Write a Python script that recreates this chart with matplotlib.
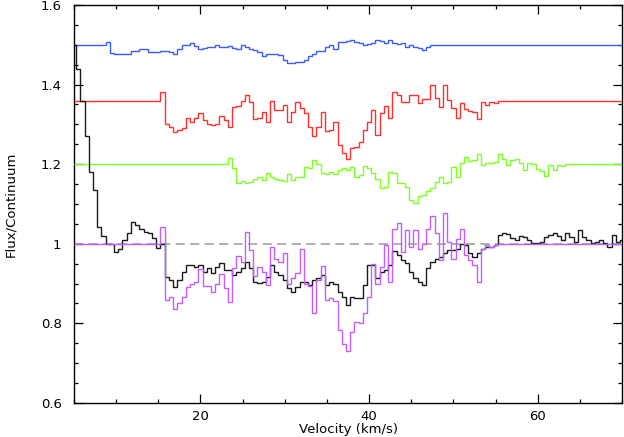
import matplotlib
matplotlib.use("Agg")
import matplotlib.pyplot as plt
import numpy as np
from matplotlib.ticker import MultipleLocator, FormatStrFormatter

# velocity range of the plot (km/s)
v_min, v_max = 5.0, 70.0
bin_width = 0.5

# each spectrum: first bin centre, flux per 0.5 km/s bin, continuum offset
blue_start = 9.0
blue_level = 1.5
blue_flux = [
    1.507, 1.480, 1.477, 1.477, 1.478, 1.478, 1.484, 1.484, 1.489, 1.490,
    1.482, 1.482, 1.482, 1.484, 1.485, 1.482, 1.478, 1.490, 1.499, 1.500,
    1.505, 1.497, 1.490, 1.492, 1.494, 1.495, 1.500, 1.494, 1.495, 1.497,
    1.492, 1.490, 1.499, 1.495, 1.490, 1.487, 1.482, 1.473, 1.477, 1.478,
    1.477, 1.475, 1.462, 1.455, 1.453, 1.457, 1.458, 1.463, 1.472, 1.478,
    1.485, 1.485, 1.495, 1.499, 1.490, 1.507, 1.507, 1.510, 1.512, 1.507,
    1.504, 1.500, 1.502, 1.505, 1.512, 1.509, 1.505, 1.512, 1.505, 1.502,
    1.504, 1.495, 1.499, 1.494, 1.492, 1.487, 1.495, 1.499, 1.499,
]

red_start = 15.5
red_level = 1.36
red_flux = [
    1.382, 1.302, 1.294, 1.280, 1.286, 1.290, 1.315, 1.307, 1.315, 1.328,
    1.311, 1.300, 1.298, 1.302, 1.322, 1.311, 1.294, 1.344, 1.347, 1.359,
    1.375, 1.357, 1.313, 1.317, 1.330, 1.307, 1.360, 1.336, 1.336, 1.349,
    1.307, 1.332, 1.355, 1.340, 1.328, 1.294, 1.271, 1.294, 1.332, 1.283,
    1.286, 1.307, 1.248, 1.227, 1.214, 1.241, 1.244, 1.256, 1.286, 1.307,
    1.336, 1.273, 1.328, 1.347, 1.315, 1.382, 1.374, 1.357, 1.357, 1.374,
    1.375, 1.353, 1.364, 1.365, 1.399, 1.367, 1.344, 1.399, 1.361, 1.340,
    1.315, 1.353, 1.339, 1.333, 1.330, 1.313, 1.355, 1.349, 1.355, 1.353,
]

green_start = 23.5
green_level = 1.2
green_flux = [
    1.215, 1.190, 1.152, 1.159, 1.152, 1.154, 1.164, 1.167, 1.160, 1.179,
    1.169, 1.162, 1.160, 1.159, 1.175, 1.160, 1.167, 1.169, 1.192, 1.190,
    1.211, 1.200, 1.179, 1.175, 1.181, 1.175, 1.185, 1.190, 1.185, 1.194,
    1.167, 1.173, 1.195, 1.190, 1.179, 1.162, 1.139, 1.142, 1.181, 1.179,
    1.152, 1.152, 1.143, 1.110, 1.103, 1.120, 1.122, 1.133, 1.139, 1.156,
    1.169, 1.152, 1.156, 1.194, 1.169, 1.204, 1.217, 1.209, 1.211, 1.226,
    1.198, 1.204, 1.204, 1.206, 1.226, 1.212, 1.198, 1.211, 1.212, 1.202,
    1.185, 1.202, 1.200, 1.187, 1.184, 1.170, 1.198, 1.185, 1.198, 1.196,
]

black_start = 5.0
black_flux = [
    1.500, 1.440, 1.360, 1.270, 1.180, 1.135, 1.043, 1.020, 1.000, 1.000,
    0.980, 0.988, 1.009, 1.026, 1.055, 1.047, 1.038, 1.030, 1.026, 1.015,
    0.990, 1.000, 0.917, 0.909, 0.892, 0.909, 0.930, 0.947, 0.947, 0.942,
    0.947, 0.930, 0.938, 0.927, 0.942, 0.951, 0.934, 0.934, 0.921, 0.930,
    0.938, 0.955, 0.938, 0.905, 0.902, 0.905, 0.917, 0.947, 0.930, 0.921,
    0.909, 0.888, 0.880, 0.892, 0.905, 0.905, 0.896, 0.909, 0.913, 0.921,
    0.896, 0.905, 0.900, 0.880, 0.867, 0.846, 0.867, 0.865, 0.863, 0.896,
    0.947, 0.947, 0.913, 0.930, 0.934, 0.947, 0.983, 0.972, 0.959, 0.951,
    0.930, 0.913, 0.905, 0.896, 0.938, 0.955, 0.963, 0.966, 0.976, 0.984,
    0.984, 0.988, 0.999, 0.997, 0.976, 0.968, 0.976, 0.986, 0.993, 0.991,
    0.997, 1.022, 1.026, 1.025, 1.014, 1.009, 1.019, 1.016, 1.009, 1.003,
    1.001, 1.005, 1.018, 1.022, 1.026, 1.019, 1.009, 1.026, 1.018, 1.005,
    1.035, 1.016, 1.009, 1.001, 1.005, 1.009, 1.001, 0.993, 1.022, 1.005,
    1.009,
]

purple_start = 15.5
purple_level = 1.0
purple_flux = [
    1.041, 0.859, 0.867, 0.835, 0.850, 0.867, 0.892, 0.900, 0.905, 0.936,
    0.894, 0.894, 0.880, 0.900, 0.924, 0.888, 0.854, 0.938, 0.969, 0.955,
    1.030, 0.984, 0.919, 0.942, 0.930, 0.896, 0.993, 0.963, 0.955, 0.978,
    0.900, 0.913, 0.926, 0.988, 0.900, 0.894, 0.825, 0.909, 0.944, 0.859,
    0.863, 0.857, 0.783, 0.749, 0.730, 0.779, 0.804, 0.800, 0.825, 0.867,
    0.950, 0.900, 0.942, 0.997, 0.904, 1.038, 1.051, 0.980, 1.034, 0.992,
    1.034, 0.988, 1.000, 1.038, 1.070, 1.026, 0.959, 1.078, 1.005, 0.963,
    1.013, 1.038, 0.971, 0.959, 0.946, 0.904, 0.988, 0.997, 0.992, 0.997,
]


def draw_spectrum(ax, start, flux, level, color, zorder=3):
    """Histogram-style spectrum; flat continuum padded out to the plot edges."""
    flux = np.asarray(flux, dtype=float)
    edges = start - bin_width / 2 + bin_width * np.arange(len(flux) + 1)
    if level is not None:
        flux = np.concatenate([[level], flux, [level]])
        edges = np.concatenate([[v_min], edges, [v_max]])
    ax.stairs(flux, edges, baseline=None, color=color, lw=1.0, zorder=zorder)


fig = plt.figure(figsize=(6.24, 4.37), dpi=100)
ax = fig.add_axes([0.1186, 0.0778, 0.8784, 0.9108])

ax.axhline(1.0, color="#9a9a9a", lw=1.1, ls=(0, (6, 3.5)), zorder=1)

draw_spectrum(ax, blue_start, blue_flux, blue_level, "#3b5bff")
draw_spectrum(ax, red_start, red_flux, red_level, "#ff2f2f")
draw_spectrum(ax, green_start, green_flux, green_level, "#7dff24")
draw_spectrum(ax, black_start, black_flux, None, "#1a1a1a")
draw_spectrum(ax, purple_start, purple_flux, purple_level, "#c25cff", zorder=4)

ax.set_xlim(v_min, v_max)
ax.set_ylim(0.6, 1.6)

ax.xaxis.set_major_locator(MultipleLocator(20))
ax.xaxis.set_minor_locator(MultipleLocator(5))
ax.yaxis.set_major_locator(MultipleLocator(0.2))
ax.yaxis.set_minor_locator(MultipleLocator(0.05))
ax.yaxis.set_major_formatter(FormatStrFormatter("%g"))

ax.tick_params(which="both", direction="in", top=True, right=True, width=0.9)
ax.tick_params(which="major", length=6.5, labelsize=9.5)
ax.tick_params(which="minor", length=3.2)
ax.tick_params(axis="y", pad=9)
ax.tick_params(axis="x", pad=5)
for spine in ax.spines.values():
    spine.set_linewidth(1.0)

ax.set_xlabel("Velocity (km/s)", fontsize=9.5, labelpad=0)
ax.set_ylabel("Flux/Continuum", fontsize=9.5)
ax.yaxis.set_label_coords(-0.104, 0.5)

fig.savefig("out.png", dpi=100)
